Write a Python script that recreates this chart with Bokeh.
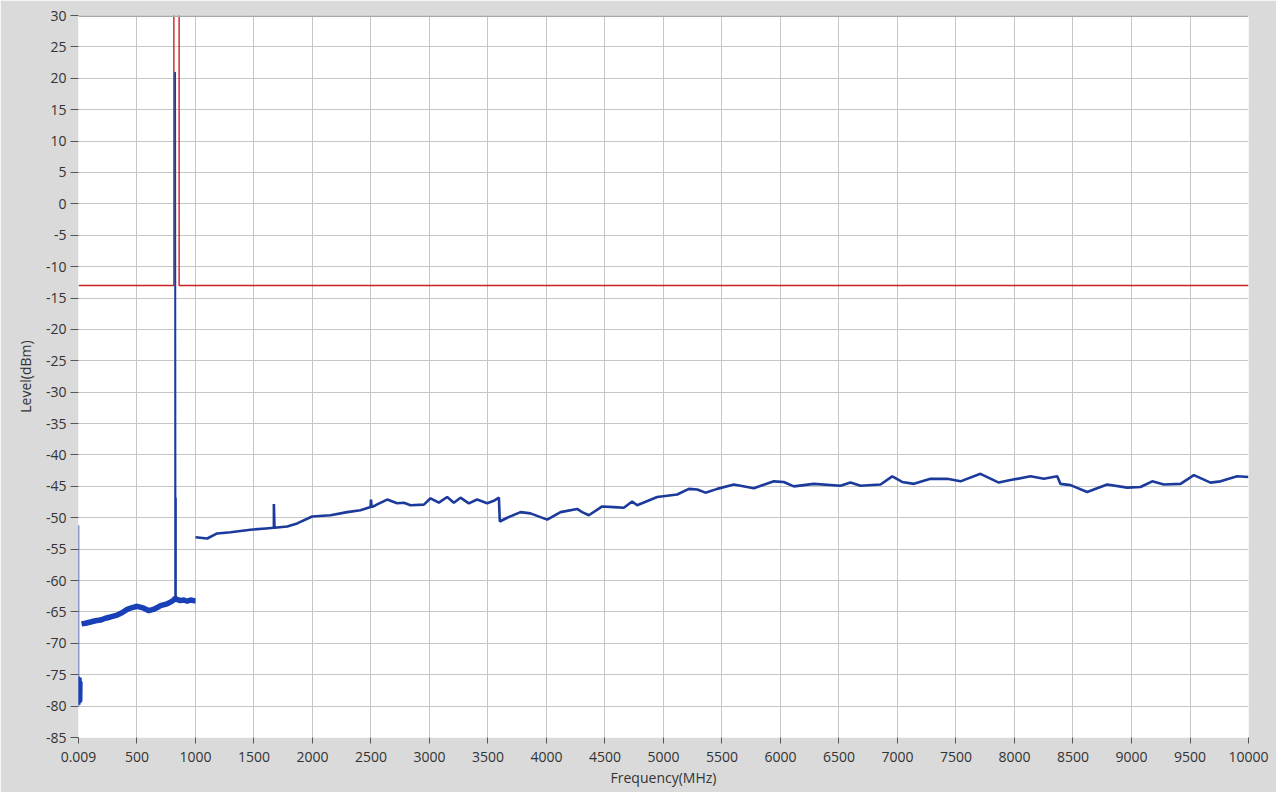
from bokeh.plotting import figure
from bokeh.models import Range1d, FixedTicker, Span
from bokeh.embed import file_html
from bokeh.resources import INLINE

# ---- axis ticks ----
x_ticks = [0.009, 500, 1000, 1500, 2000, 2500, 3000, 3500, 4000, 4500, 5000,
           5500, 6000, 6500, 7000, 7500, 8000, 8500, 9000, 9500, 10000]
x_tick_labels = ["0.009", "500", "1000", "1500", "2000", "2500", "3000", "3500",
                 "4000", "4500", "5000", "5500", "6000", "6500", "7000", "7500",
                 "8000", "8500", "9000", "9500", "10000"]
y_ticks = [30, 25, 20, 15, 10, 5, 0, -5, -10, -15, -20, -25, -30, -35, -40,
           -45, -50, -55, -60, -65, -70, -75, -80, -85]
y_tick_labels = ["30", "25", "20", "15", "10", "5", "0", "-5", "-10", "-15",
                 "-20", "-25", "-30", "-35", "-40", "-45", "-50", "-55", "-60",
                 "-65", "-70", "-75", "-80", "-85"]

# ---- limit line (dBm) ----
limit_freq = [0.009, 815, 815, 860, 860, 10000]
limit_level = [-13, -13, 40, 40, -13, -13]

# ---- measured trace, pieces ----
edge_freq = [0.009, 0.009]
edge_level = [-51.2, -80.0]

start_freq = [1, 3, 5, 7, 9, 11, 13, 15, 17, 19, 21, 23, 25]
start_level = [-75.3, -79.6, -75.6, -79.8, -75.4, -79.2, -75.8, -79.5, -75.5,
               -79.0, -76.0, -79.3, -76.2]

low_freq = [26, 60, 103, 145, 188, 230, 274, 331, 375, 416, 460, 502, 558, 601,
            640, 673, 701, 758, 790, 815, 826, 840, 872, 900, 929, 957, 986, 1000]
low_level = [-66.9, -66.8, -66.6, -66.4, -66.3, -66.0, -65.8, -65.5, -65.1,
             -64.6, -64.3, -64.1, -64.4, -64.8, -64.6, -64.3, -64.0, -63.7,
             -63.4, -63.1, -62.8, -63.0, -63.2, -63.1, -63.3, -63.1, -63.2, -63.2]

spike_freq = [826, 826, 830, 833, 833]
spike_level = [-62.8, 21.0, -62.9, -62.9, -46.8]

hi_freq = [1000, 1100, 1185, 1300, 1470, 1600, 1670, 1670, 1675, 1784, 1869,
           1997, 2154, 2296, 2410, 2496, 2500, 2505, 2540, 2638, 2724, 2781,
           2838, 2952, 3009, 3080, 3151, 3208, 3265, 3336, 3407, 3493, 3550,
           3593, 3601, 3664, 3778, 3863, 4006, 4120, 4262, 4305, 4362, 4476,
           4575, 4661, 4732, 4775, 4946, 5117, 5217, 5288, 5359, 5459, 5601,
           5772, 5943, 6028, 6114, 6285, 6513, 6598, 6684, 6855, 6955, 7040,
           7140, 7282, 7425, 7538, 7709, 7866, 7966, 8137, 8251, 8365, 8393,
           8479, 8621, 8792, 8963, 9077, 9177, 9276, 9419, 9533, 9675, 9761,
           9903, 10000]
hi_level = [-53.1, -53.3, -52.5, -52.3, -51.9, -51.7, -51.6, -47.8, -51.6,
            -51.4, -50.9, -49.8, -49.6, -49.1, -48.8, -48.3, -47.1, -48.3,
            -48.0, -47.1, -47.7, -47.6, -48.0, -47.9, -46.9, -47.6, -46.7,
            -47.6, -46.8, -47.7, -47.1, -47.7, -47.3, -46.8, -50.6, -50.0,
            -49.1, -49.3, -50.3, -49.1, -48.6, -49.1, -49.6, -48.2, -48.3,
            -48.4, -47.4, -48.0, -46.7, -46.3, -45.4, -45.5, -46.0, -45.4,
            -44.7, -45.3, -44.2, -44.3, -45.0, -44.6, -44.9, -44.4, -44.9,
            -44.7, -43.4, -44.3, -44.6, -43.8, -43.8, -44.2, -43.0, -44.4,
            -44.0, -43.4, -43.8, -43.4, -44.6, -44.8, -45.9, -44.7, -45.2,
            -45.1, -44.2, -44.7, -44.6, -43.2, -44.4, -44.2, -43.4, -43.5]

X_START, X_END = 0.009, 10000
Y_START, Y_END = -85, 30

BLUE = "#1a40b8"
BLUE_DARK = "#1c3a9c"
RED = "#cc2020"
FONT = "Open Sans"

p = figure(width=1276, height=792,
           x_range=Range1d(X_START, X_END), y_range=Range1d(Y_START, Y_END),
           output_backend="svg", toolbar_location=None,
           min_border_left=78, min_border_right=28, min_border_top=15,
           min_border_bottom=55,
           background_fill_color="white", border_fill_color="#dadada",
           outline_line_color=None)

p.xaxis.ticker = FixedTicker(ticks=x_ticks)
p.yaxis.ticker = FixedTicker(ticks=y_ticks)
p.xaxis.major_label_overrides = dict(zip(x_ticks, x_tick_labels))
p.yaxis.major_label_overrides = dict(zip(y_ticks, y_tick_labels))

p.axis.axis_line_color = None
p.axis.minor_tick_line_color = None
p.axis.major_tick_line_color = "#555555"
p.axis.major_tick_in = 0
p.xaxis.major_tick_out = 6
p.yaxis.major_tick_out = 8
p.xaxis.major_label_standoff = 8
p.yaxis.major_label_standoff = 4
p.axis.major_label_text_font = FONT
p.axis.major_label_text_font_size = "14px"
p.axis.major_label_text_color = "#333333"
p.axis.axis_label_text_font = FONT
p.axis.axis_label_text_font_size = "14px"
p.axis.axis_label_text_font_style = "normal"
p.axis.axis_label_text_color = "#333333"
p.xaxis.axis_label = "Frequency(MHz)"
p.yaxis.axis_label = "Level(dBm)"
p.xaxis.axis_label_standoff = 3
p.yaxis.axis_label_standoff = 8

p.grid.grid_line_color = "#c6c6c6"
p.grid.grid_line_width = 1

p.add_layout(Span(location=Y_END, dimension="width", line_color="#a8a8a8",
                  line_width=3))

p.line(limit_freq, limit_level, line_color=RED, line_width=1.4)
p.line(edge_freq, edge_level, line_color=BLUE_DARK, line_width=1.5)
p.line(start_freq, start_level, line_color=BLUE, line_width=2.5)
p.line(low_freq, low_level, line_color=BLUE, line_width=5.5)
p.line(spike_freq, spike_level, line_color=BLUE_DARK, line_width=1.8)
p.line(hi_freq, hi_level, line_color=BLUE_DARK, line_width=2.6)

open("out.html", "w").write(file_html(p, INLINE))
